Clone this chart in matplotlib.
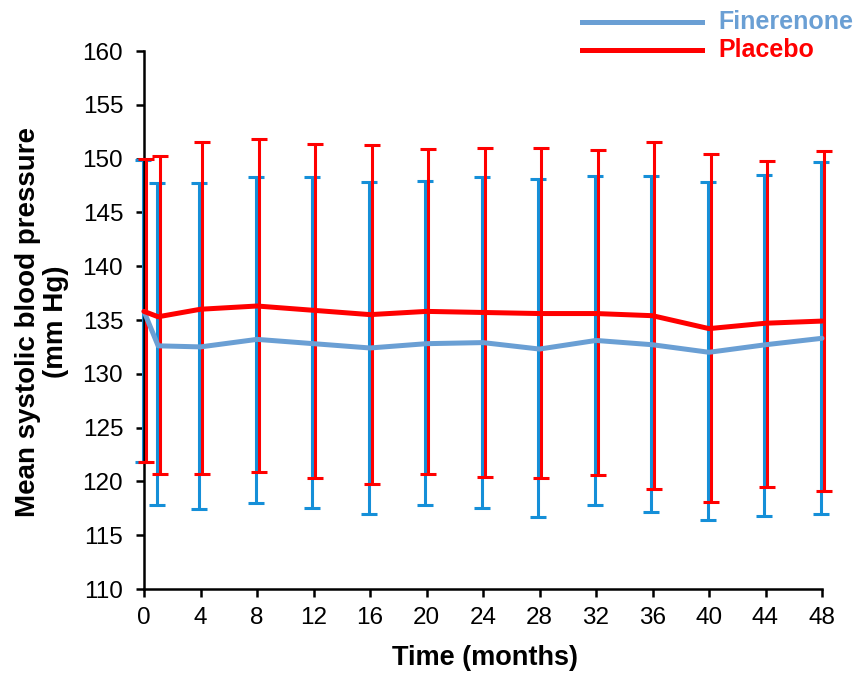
import matplotlib
matplotlib.use("Agg")
import matplotlib.pyplot as plt
import matplotlib.transforms as mtransforms

plt.rcParams['font.family'] = ['Liberation Sans', 'DejaVu Sans']

months = [0, 1, 4, 8, 12, 16, 20, 24, 28, 32, 36, 40, 44, 48]
fin_mean = [135.8, 132.6, 132.5, 133.2, 132.8, 132.4, 132.8, 132.9, 132.3, 133.1, 132.7, 132.0, 132.7, 133.3]
fin_upper = [149.9, 147.7, 147.7, 148.3, 148.3, 147.8, 147.9, 148.3, 148.1, 148.4, 148.4, 147.8, 148.5, 149.7]
fin_lower = [121.8, 117.8, 117.4, 118.0, 117.5, 117.0, 117.8, 117.5, 116.7, 117.8, 117.2, 116.4, 116.8, 117.0]
pla_mean = [135.8, 135.3, 136.0, 136.3, 135.9, 135.5, 135.8, 135.7, 135.6, 135.6, 135.4, 134.2, 134.7, 134.9]
pla_upper = [150.0, 150.2, 151.5, 151.8, 151.4, 151.3, 150.9, 151.0, 151.0, 150.8, 151.5, 150.4, 149.8, 150.7]
pla_lower = [121.8, 120.7, 120.7, 120.9, 120.3, 119.8, 120.7, 120.4, 120.3, 120.6, 119.3, 118.1, 119.5, 119.1]
xticks = list(range(0, 49, 4))
yticks = list(range(110, 161, 5))

fin_line = '#6a9fd4'
fin_bar = '#158fd8'
red = '#ff0000'

fig = plt.figure(figsize=(8.59, 6.73), dpi=100)
ax = fig.add_axes([144/859, 1-589/673, (822-144)/859, (589-51)/673])

off_l = mtransforms.offset_copy(ax.transData, fig=fig, x=-1.5, y=0, units='dots')
off_r = mtransforms.offset_copy(ax.transData, fig=fig, x=1.5, y=0, units='dots')

fin_err = [[m - l for m, l in zip(fin_mean, fin_lower)], [u - m for m, u in zip(fin_mean, fin_upper)]]
pla_err = [[m - l for m, l in zip(pla_mean, pla_lower)], [u - m for m, u in zip(pla_mean, pla_upper)]]

eb1 = ax.errorbar(months, fin_mean, yerr=fin_err, fmt='none', ecolor=fin_bar, elinewidth=2.2,
                  capsize=6, capthick=2.2, transform=off_l, zorder=2)
eb2 = ax.errorbar(months, pla_mean, yerr=pla_err, fmt='none', ecolor=red, elinewidth=2.2,
                  capsize=6, capthick=2.2, transform=off_r, zorder=3)
for eb in (eb1, eb2):
    for art in list(eb.lines[1]) + list(eb.lines[2]):
        art.set_clip_on(False)

l1, = ax.plot(months, fin_mean, color=fin_line, lw=3.6, zorder=4, solid_capstyle='round')
l2, = ax.plot(months, pla_mean, color=red, lw=3.6, zorder=5, solid_capstyle='round')
l1.set_clip_on(False)
l2.set_clip_on(False)

ax.set_xlim(0, 48)
ax.set_ylim(110, 160)
ax.set_xticks(xticks)
ax.set_yticks(yticks)
ax.tick_params(axis='both', labelsize=17.5, width=1.8, length=6, direction='out', color='black')
ax.tick_params(axis='x', pad=7)
ax.tick_params(axis='y', pad=9)
for s in ['top', 'right']:
    ax.spines[s].set_visible(False)
for s in ['left', 'bottom']:
    ax.spines[s].set_linewidth(1.8)
    ax.spines[s].set_color('black')

fig.text(485/859, 1-658/673, 'Time (months)', fontsize=19.5, fontweight='bold',
         ha='center', va='center')
fig.text(42/859, 1-322/673, 'Mean systolic blood pressure\n(mm Hg)', fontsize=20,
         fontweight='bold', rotation=90, ha='center', va='center', linespacing=1.1,
         multialignment='center')

# Legend
fig.add_artist(plt.Line2D([582/859, 702/859], [1-22/673, 1-22/673], color=fin_line, lw=3.6))
fig.add_artist(plt.Line2D([582/859, 702/859], [1-50/673, 1-50/673], color=red, lw=3.6))
fig.text(718/859, 1-22/673, 'Finerenone', color=fin_line, fontsize=18, fontweight='bold', va='center', ha='left')
fig.text(718/859, 1-50/673, 'Placebo', color=red, fontsize=18, fontweight='bold', va='center', ha='left')

fig.savefig('out.png', dpi=100)
